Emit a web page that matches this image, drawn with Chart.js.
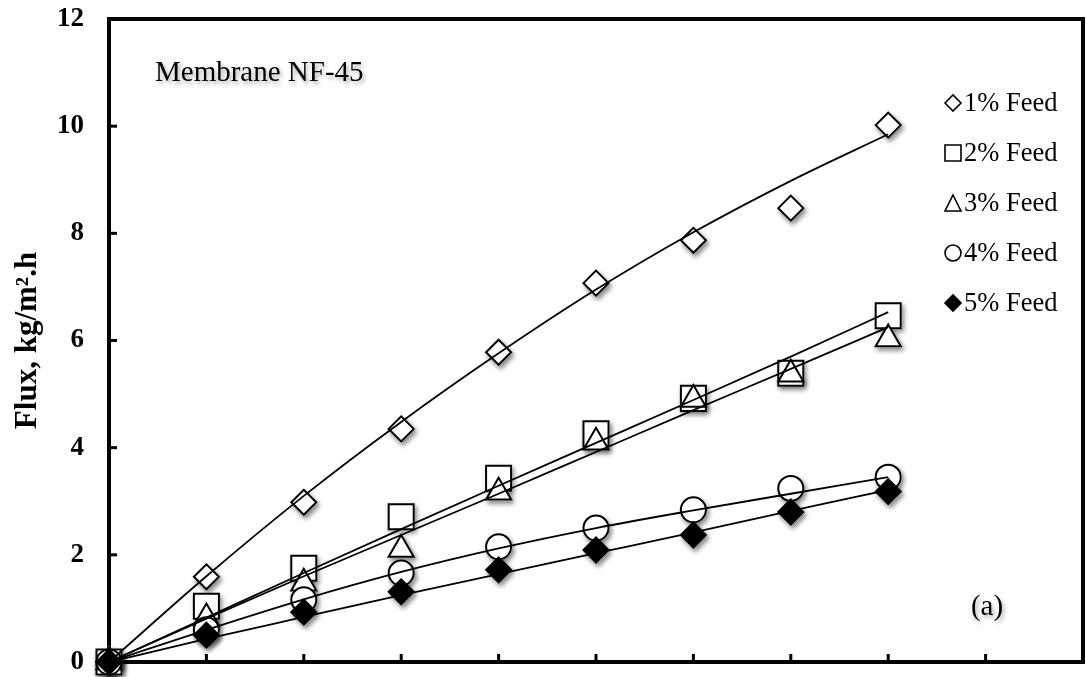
<!DOCTYPE html>
<html>
<head>
<meta charset="utf-8">
<script src="https://cdn.jsdelivr.net/npm/chart.js@4.4.0/dist/chart.umd.min.js"></script>
<style>
  html, body { margin: 0; padding: 0; background: #ffffff; }
  #wrap { width: 1086px; height: 677px; }
</style>
</head>
<body>
<div id="wrap"><canvas id="fluxChart" width="1086" height="677"></canvas></div>
<script>
// readings from the figure (x = step 0..8, flux in kg/m2.h)
const xSteps = [0, 1, 2, 3, 4, 5, 6, 7, 8];
const feed1 = [0, 1.59, 2.98, 4.35, 5.78, 7.07, 7.87, 8.47, 10.02];
const feed2 = [0, 1.04, 1.75, 2.71, 3.43, 4.26, 4.92, 5.39, 6.46];
const feed3 = [0, 0.82, 1.47, 2.1, 3.17, 4.1, 4.9, 5.37, 6.03];
const feed4 = [0, 0.6, 1.16, 1.66, 2.15, 2.5, 2.84, 3.24, 3.45];
const feed5 = [0, 0.5, 0.93, 1.31, 1.72, 2.09, 2.37, 2.8, 3.18];

// trend curves as they appear in the figure
const trend1 = [0, 1.6, 3.1, 4.48, 5.76, 6.95, 8.02, 8.98, 9.85];
const trend2 = [0, 0.83, 1.66, 2.48, 3.29, 4.09, 4.89, 5.7, 6.53];
const trend3 = [0, 0.81, 1.6, 2.37, 3.14, 3.92, 4.7, 5.47, 6.25];
const trend4 = [0, 0.6, 1.17, 1.68, 2.12, 2.5, 2.83, 3.14, 3.45];
const trend5 = [0, 0.43, 0.84, 1.25, 1.64, 2.03, 2.42, 2.82, 3.21];

const seriesLabels = ["1% Feed", "2% Feed", "3% Feed", "4% Feed", "5% Feed"];
const yTicks = [0, 2, 4, 6, 8, 10, 12];
const xTicks = [0, 1, 2, 3, 4, 5, 6, 7, 8, 9, 10];

const SERIF = "'Liberation Serif', 'Times New Roman', serif";

const markerStyles = [
  { pointStyle: "rectRot", radius: 12.5, fill: "#ffffff" },
  { pointStyle: "rect", radius: 17.7, fill: "#ffffff" },
  { pointStyle: "triangle", radius: 14.5, fill: "#ffffff" },
  { pointStyle: "circle", radius: 12.5, fill: "#ffffff" },
  { pointStyle: "rectRot", radius: 12.5, fill: "#000000" },
];

function toPoints(values) {
  return values.map((v, i) => ({ x: xSteps[i], y: v }));
}

const feeds = [feed1, feed2, feed3, feed4, feed5];
const trends = [trend1, trend2, trend3, trend4, trend5];

const datasets = [];

trends.forEach((t, i) => {
  datasets.push({
    type: "line",
    label: "trend " + seriesLabels[i],
    data: toPoints(t),
    borderColor: "#000000",
    borderWidth: 1.8,
    pointRadius: 0,
    tension: 0.4,
    cubicInterpolationMode: "monotone",
    fill: false,
    order: 0,
    clip: false,
  });
});

feeds.forEach((f, i) => {
  const m = markerStyles[i];
  // real markers
  datasets.push({
    type: "scatter",
    label: seriesLabels[i],
    data: toPoints(f),
    showLine: false,
    pointStyle: m.pointStyle,
    pointRadius: m.radius,
    pointHoverRadius: m.radius,
    pointBackgroundColor: m.fill,
    pointBorderColor: "#000000",
    pointBorderWidth: 2,
    order: 5 - i,
    clip: false,
  });
  // same markers again underneath, only to cast the drop shadow
  datasets.push({
    type: "scatter",
    label: "shadow " + seriesLabels[i],
    data: toPoints(f),
    showLine: false,
    pointStyle: m.pointStyle,
    pointRadius: m.radius,
    pointHoverRadius: m.radius,
    pointBackgroundColor: "#ffffff",
    pointBorderColor: "#ffffff",
    pointBorderWidth: 2,
    order: 20,
    clip: false,
    isShadow: true,
  });
});

const shadowPlugin = {
  id: "markerShadow",
  beforeDatasetDraw(chart, args) {
    const ds = chart.data.datasets[args.index];
    if (!ds.isShadow) return;
    const ctx = chart.ctx;
    ctx.save();
    ctx.shadowColor = "rgba(0,0,0,0.45)";
    ctx.shadowBlur = 5;
    ctx.shadowOffsetX = 2;
    ctx.shadowOffsetY = 3;
  },
  afterDatasetDraw(chart, args) {
    const ds = chart.data.datasets[args.index];
    if (!ds.isShadow) return;
    chart.ctx.restore();
  },
};

const framePlugin = {
  id: "frame",
  beforeDatasetsDraw(chart) {
    const { ctx, chartArea, scales } = chart;
    ctx.save();
    ctx.strokeStyle = "#000000";
    ctx.lineWidth = 3;
    // inner ticks
    scales.x.ticks.forEach((t) => {
      const px = scales.x.getPixelForValue(t.value);
      ctx.beginPath();
      ctx.moveTo(px, chartArea.bottom);
      ctx.lineTo(px, chartArea.bottom - 8);
      ctx.stroke();
    });
    scales.y.ticks.forEach((t) => {
      const py = scales.y.getPixelForValue(t.value);
      ctx.beginPath();
      ctx.moveTo(chartArea.left, py);
      ctx.lineTo(chartArea.left + 8, py);
      ctx.stroke();
    });
    ctx.lineWidth = 4;
    ctx.strokeRect(chartArea.left, chartArea.top,
      chartArea.right - chartArea.left, chartArea.bottom - chartArea.top);
    ctx.restore();
  },
};

function drawLegendMarker(ctx, style, x, y) {
  ctx.beginPath();
  const s = 8;
  if (style === 0 || style === 4) {
    ctx.moveTo(x - s, y);
    ctx.lineTo(x, y - s);
    ctx.lineTo(x + s, y);
    ctx.lineTo(x, y + s);
    ctx.closePath();
  } else if (style === 1) {
    ctx.rect(x - s, y - s, 2 * s, 2 * s);
  } else if (style === 2) {
    ctx.moveTo(x, y - s);
    ctx.lineTo(x + s, y + s);
    ctx.lineTo(x - s, y + s);
    ctx.closePath();
  } else {
    ctx.arc(x, y, s, 0, Math.PI * 2);
  }
  ctx.fillStyle = markerStyles[style].fill;
  ctx.fill();
  ctx.lineWidth = 1.6;
  ctx.strokeStyle = "#000000";
  ctx.stroke();
}

const annotationPlugin = {
  id: "annotations",
  afterDraw(chart) {
    const ctx = chart.ctx;
    ctx.save();
    // legend
    ctx.font = "26.5px " + SERIF;
    ctx.textBaseline = "middle";
    ctx.textAlign = "left";
    seriesLabels.forEach((label, i) => {
      const y = 103 + i * 50;
      drawLegendMarker(ctx, i, 953, y);
      ctx.fillStyle = "#000000";
      ctx.fillText(label, 964, y + 1);
    });
    // texts with soft shadow
    ctx.fillStyle = "#000000";
    ctx.shadowColor = "rgba(0,0,0,0.35)";
    ctx.shadowBlur = 4;
    ctx.shadowOffsetX = 2;
    ctx.shadowOffsetY = 3;
    ctx.font = "29px " + SERIF;
    ctx.fillText("Membrane NF-45", 155, 73);
    ctx.textAlign = "center";
    ctx.fillText("(a)", 987, 607);
    ctx.restore();
  },
};

new Chart(document.getElementById("fluxChart"), {
  data: { datasets },
  options: {
    responsive: false,
    animation: false,
    layout: { autoPadding: false, padding: { top: 19, right: 3, bottom: 15, left: 0 } },
    plugins: {
      legend: { display: false },
      tooltip: { enabled: false },
    },
    scales: {
      x: {
        type: "linear",
        min: 0,
        max: 10,
        afterBuildTicks(scale) {
          scale.ticks = xTicks.map((v) => ({ value: v }));
        },
        afterFit(scale) {
          scale.height = 0;
          scale.paddingLeft = 0;
          scale.paddingRight = 0;
        },
        ticks: { display: false },
        grid: { display: false },
        border: { display: false },
      },
      y: {
        type: "linear",
        min: 0,
        max: 12,
        afterBuildTicks(scale) {
          scale.ticks = yTicks.map((v) => ({ value: v }));
        },
        afterFit(scale) {
          scale.width = 109;
          scale.paddingTop = 0;
          scale.paddingBottom = 0;
        },
        ticks: {
          color: "#000000",
          padding: 25,
          font: { family: SERIF, size: 27, weight: "bold" },
        },
        grid: { display: false, drawTicks: false },
        border: { display: false },
        title: {
          display: true,
          text: "Flux, kg/m\u00b2.h",
          color: "#000000",
          font: { family: SERIF, size: 31, weight: "bold" },
          padding: { top: 9, bottom: 0 },
        },
      },
    },
  },
  plugins: [shadowPlugin, framePlugin, annotationPlugin],
});
</script>
</body>
</html>
